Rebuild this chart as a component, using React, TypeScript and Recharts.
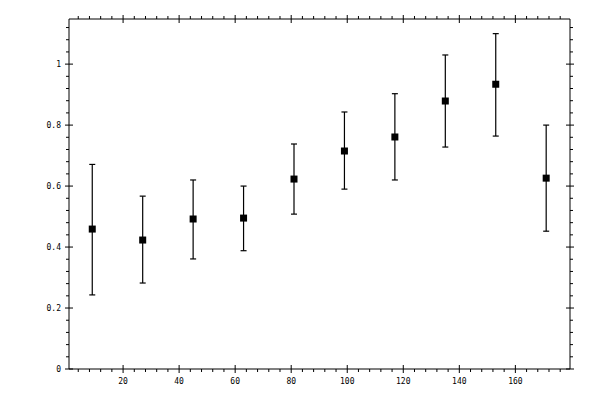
import * as React from 'react';
import {
  ErrorBar,
  Scatter,
  ScatterChart,
  XAxis,
  YAxis,
} from 'recharts';

const xValues = [9, 27, 45, 63, 81, 99, 117, 135, 153, 171];
const yValues = [0.459, 0.423, 0.492, 0.495, 0.623, 0.715, 0.761, 0.879, 0.934, 0.626];
const yHigh = [0.671, 0.567, 0.62, 0.6, 0.738, 0.843, 0.903, 1.03, 1.1, 0.8];
const yLow = [0.243, 0.282, 0.361, 0.388, 0.508, 0.59, 0.62, 0.728, 0.764, 0.452];

const xMajor = [20, 40, 60, 80, 100, 120, 140, 160];
const yMajor = [0, 0.2, 0.4, 0.6, 0.8, 1];

// minor tick grids (every 4 on x, every 0.04 on y)
const xTicks: number[] = [];
for (let i = 1; i <= 44; i++) xTicks.push(i * 4);
const yTicks: number[] = [];
for (let i = 0; i <= 28; i++) yTicks.push(Math.round(i * 4) / 100);

const X_DOMAIN: [number, number] = [0.7, 179.5];
const Y_DOMAIN: [number, number] = [0, 1.148];

const data = xValues.map((x, i) => ({
  x,
  y: yValues[i],
  err: [yValues[i] - yLow[i], yHigh[i] - yValues[i]],
}));

const FONT = '"DejaVu Sans Mono", monospace';

const isMajorX = (v: number) => xMajor.includes(v);
const isMajorY = (v: number) =>
  yMajor.some((m) => Math.abs(m - v) < 1e-6);

type Side = 'bottom' | 'top' | 'left' | 'right';

function makeTick(side: Side) {
  return function Tick(props: any): React.ReactElement {
    const { x, y, payload } = props;
    const v = payload.value as number;
    const major = side === 'bottom' || side === 'top' ? isMajorX(v) : isMajorY(v);
    const inner = major ? 4 : 0;
    const outer = major ? 4 : 3;
    let line: React.ReactNode = null;
    let label: React.ReactNode = null;
    if (side === 'bottom') {
      line = <line x1={x} x2={x} y1={y - inner} y2={y + outer} stroke="#000" />;
      if (major)
        label = (
          <text x={x} y={y + 12} textAnchor="middle" dominantBaseline="central"
            fontFamily={FONT} fontSize={8} fill="#000">{v}</text>
        );
    } else if (side === 'top') {
      line = <line x1={x} x2={x} y1={y + inner} y2={y - outer} stroke="#000" />;
    } else if (side === 'left') {
      line = <line x1={x + inner} x2={x - outer} y1={y} y2={y} stroke="#000" />;
      if (major)
        label = (
          <text x={x - 8} y={y} textAnchor="end" dominantBaseline="central"
            fontFamily={FONT} fontSize={8} fill="#000">{String(v)}</text>
        );
    } else {
      line = <line x1={x - inner} x2={x + outer} y1={y} y2={y} stroke="#000" />;
    }
    return (
      <g>
        {line}
        {label}
      </g>
    );
  };
}

function SquareMark(props: any): React.ReactElement {
  const { cx, cy } = props;
  return <rect x={cx - 3.5} y={cy - 3.5} width={7} height={7} fill="#000" />;
}

export default function App(): React.ReactElement {
  return (
    <div style={{ position: 'absolute', left: 0, top: 0, background: '#fff' }}>
      <ScatterChart
        width={600}
        height={400}
        margin={{ top: 9, right: 20, bottom: 11, left: 9 }}
      >
        <XAxis
          xAxisId="bottom"
          dataKey="x"
          type="number"
          orientation="bottom"
          domain={X_DOMAIN}
          allowDataOverflow
          ticks={xTicks}
          interval={0}
          height={20}
          tickSize={0}
          tickMargin={0}
          tickLine={false}
          tick={makeTick('bottom')}
          axisLine={{ stroke: '#000' }}
        />
        <XAxis
          xAxisId="top"
          dataKey="x"
          type="number"
          orientation="top"
          domain={X_DOMAIN}
          allowDataOverflow
          ticks={xTicks}
          interval={0}
          height={10}
          tickSize={0}
          tickMargin={0}
          tickLine={false}
          tick={makeTick('top')}
          axisLine={{ stroke: '#000' }}
        />
        <YAxis
          yAxisId="left"
          dataKey="y"
          type="number"
          orientation="left"
          domain={Y_DOMAIN}
          allowDataOverflow
          ticks={yTicks}
          interval={0}
          width={60}
          tickSize={0}
          tickMargin={0}
          tickLine={false}
          tick={makeTick('left')}
          axisLine={{ stroke: '#000' }}
        />
        <YAxis
          yAxisId="right"
          dataKey="y"
          type="number"
          orientation="right"
          domain={Y_DOMAIN}
          allowDataOverflow
          ticks={yTicks}
          interval={0}
          width={10}
          tickSize={0}
          tickMargin={0}
          tickLine={false}
          tick={makeTick('right')}
          axisLine={{ stroke: '#000' }}
        />
        <Scatter
          data={data}
          xAxisId="bottom"
          yAxisId="left"
          shape={SquareMark}
          isAnimationActive={false}
        >
          <ErrorBar
            dataKey="err"
            direction="y"
            width={3}
            stroke="#000"
            strokeWidth={1.2}
            isAnimationActive={false}
          />
        </Scatter>
        <Scatter
          data={data}
          xAxisId="top"
          yAxisId="right"
          shape={() => <g />}
          isAnimationActive={false}
        />
      </ScatterChart>
    </div>
  );
}
